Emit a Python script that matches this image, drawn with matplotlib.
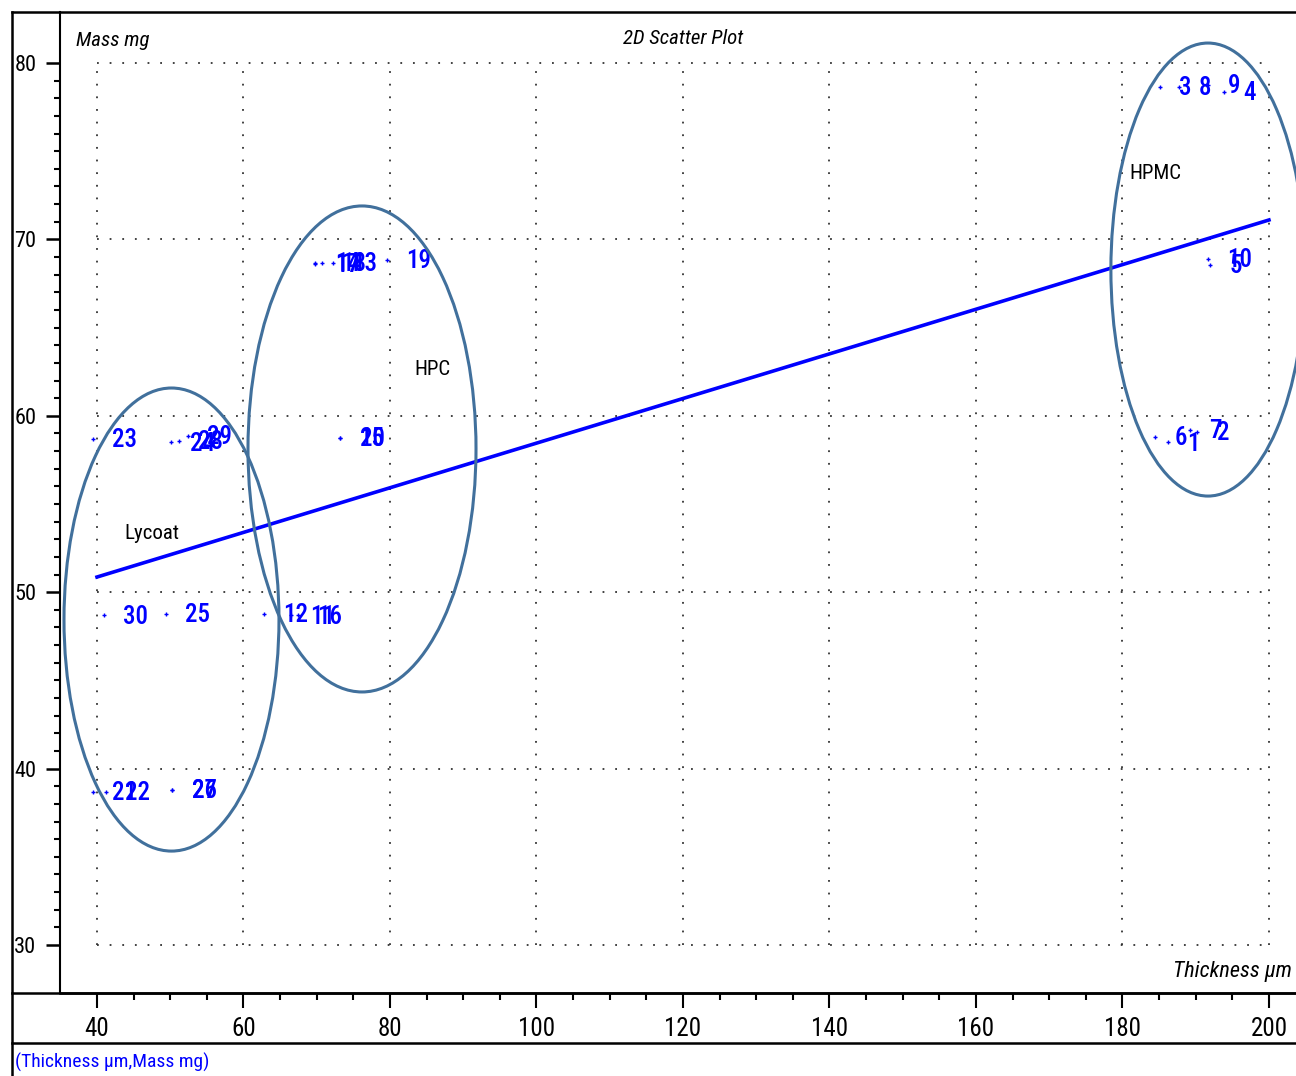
import numpy as np
import matplotlib.pyplot as plt
from matplotlib import font_manager
from matplotlib.patches import Ellipse
from matplotlib.lines import Line2D
from matplotlib.ticker import FixedLocator

# pick a narrow face if one is around
names = {f.name for f in font_manager.fontManager.ttflist}
narrow = [n for n in ['Liberation Sans Narrow', 'Roboto Condensed', 'Open Sans Condensed'] if n in names]
plt.rcParams['font.family'] = narrow + ['Liberation Sans', 'DejaVu Sans']
plt.rcParams['font.stretch'] = 'condensed'

# sample numbers with thickness (um) and mass (mg)
hpmc_ids = ['3', '8', '9', '4', '10', '5', '6', '1', '7', '2']
hpmc_x = [185.1, 187.7, 191.7, 193.9, 191.7, 191.95, 184.4, 186.2, 189.2, 190.2]
hpmc_y = [78.64, 78.64, 78.75, 78.36, 68.89, 68.55, 58.8, 58.5, 59.2, 59.1]

hpc_ids = ['14', '17', '18', '13', '19', '20', '15', '12', '11', '16']
hpc_x = [69.8, 69.8, 70.7, 72.2, 79.6, 73.2, 73.2, 62.8, 66.5, 67.4]
hpc_y = [68.66, 68.6, 68.66, 68.66, 68.83, 58.74, 58.74, 48.76, 48.7, 48.7]

lycoat_ids = ['23', '24', '28', '29', '30', '25', '21', '22', '26', '27']
lycoat_x = [39.45, 50.1, 51.2, 52.4, 40.96, 49.4, 39.45, 41.2, 50.25, 50.25]
lycoat_y = [58.68, 58.5, 58.57, 58.85, 48.7, 48.76, 38.67, 38.67, 38.79, 38.79]

# fitted line end points
fit_x = [40, 200]
fit_y = [50.86, 71.1]

# group ellipses: name, centre, width, height, label position
groups = ['Lycoat', 'HPC', 'HPMC']
grp_cx = [50.17, 76.18, 191.67]
grp_cy = [48.45, 58.12, 68.29]
grp_w = [29.35, 31.13, 26.5]
grp_h = [26.25, 27.55, 25.68]
grp_lx = [43.8, 83.3, 180.9]
grp_ly = [53.35, 62.65, 73.76]

W, H = 1296, 1076
fig = plt.figure(figsize=(W / 100, H / 100), dpi=100)
fig.patch.set_facecolor('white')

def fx(px):
    return px / W

def fy(py):
    return 1 - py / H

ax = fig.add_axes([fx(60), fy(993), fx(1296) - fx(60), fy(12) - fy(993)])
ax.set_xlim(34.95, 203.69)
ax.set_ylim(27.28, 82.89)
for s in ['top', 'right']:
    ax.spines[s].set_visible(False)
ax.spines['left'].set_linewidth(1.5)
ax.spines['bottom'].set_linewidth(1.8)

# dotted grid inside the data range only
for gx in range(40, 201, 20):
    ax.plot([gx, gx], [30, 80], color='#333333', lw=1.3, ls=(0, (1, 6)), zorder=1)
for gy in range(30, 81, 10):
    ax.plot([40, 200], [gy, gy], color='#333333', lw=1.3, ls=(0, (1, 6)), zorder=1)

ax.xaxis.set_major_locator(FixedLocator(np.arange(40, 201, 20)))
ax.xaxis.set_minor_locator(FixedLocator(np.arange(40, 201, 5)))
ax.yaxis.set_major_locator(FixedLocator(np.arange(30, 81, 10)))
ax.yaxis.set_minor_locator(FixedLocator(np.arange(30, 81, 1)))
ax.tick_params(axis='x', which='major', direction='out', length=11, width=1.5, pad=6, labelsize=18)
ax.tick_params(axis='x', which='minor', direction='out', length=5, width=1.5)
ax.tick_params(axis='y', which='major', direction='out', length=10, width=1.8, pad=7, labelsize=16)
ax.tick_params(axis='y', which='minor', direction='out', length=4, width=1.5)

# regression line
ax.plot(fit_x, fit_y, color='#0000ff', lw=2.6, zorder=3)

# points and sample numbers
ids = hpmc_ids + hpc_ids + lycoat_ids
xs = hpmc_x + hpc_x + lycoat_x
ys = hpmc_y + hpc_y + lycoat_y
ax.plot(xs, ys, ls='none', marker='+', ms=3.5, mew=1, color='#0000ff', zorder=4)
for t, x, y in zip(ids, xs, ys):
    ax.annotate(t, (x, y), xytext=(14, -1), textcoords='offset points',
                ha='left', va='center', fontsize=18, fontweight='medium', color='#0000ff', zorder=5)

# group outlines
for name, cx, cy, w, h, lx, ly in zip(groups, grp_cx, grp_cy, grp_w, grp_h, grp_lx, grp_ly):
    ax.add_patch(Ellipse((cx, cy), w, h, fill=False, ec='#41709c', lw=2.2, zorder=6))
    ax.text(lx, ly, name, ha='left', va='center', fontsize=15, color='black', zorder=7)

ax.text(fx(76 - 60) / (fx(1296) - fx(60)), (fy(40) - fy(993)) / (fy(12) - fy(993)), 'Mass mg',
        transform=ax.transAxes, ha='left', va='center', fontsize=15, style='italic')
fig.text(fx(683), fy(39), '2D Scatter Plot', ha='center', va='center', fontsize=15, style='italic')
fig.text(fx(1292), fy(971), 'Thickness \u00b5m', ha='right', va='center', fontsize=16, style='italic')
fig.text(fx(15), fy(1062), '(Thickness \u00b5m,Mass mg)', ha='left', va='center', fontsize=14, color='#0000ff')

# outer frame lines
for x0, y0, x1, y1 in [(12, 12, 1296, 12), (12, 12, 12, 1076), (12, 993, 1296, 993), (12, 1043, 1296, 1043)]:
    fig.add_artist(Line2D([fx(x0), fx(x1)], [fy(y0), fy(y1)], color='black', lw=1.8))

fig.savefig('out.png', dpi=100)
